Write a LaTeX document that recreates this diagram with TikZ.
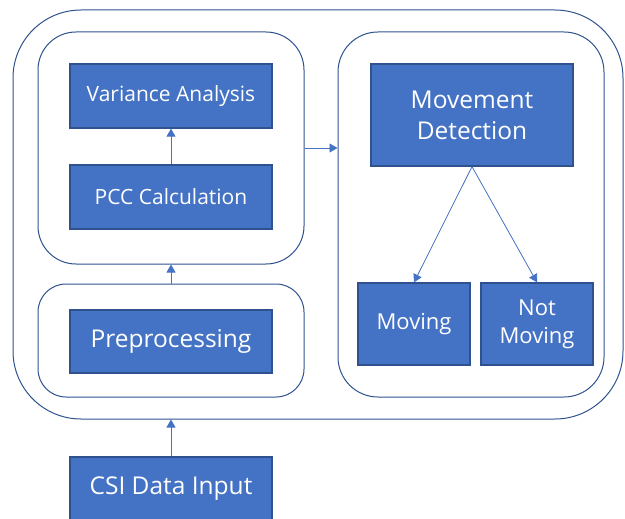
\documentclass[tikz,border=0pt]{standalone}
\usepackage{fontspec}
\setmainfont{Open Sans}
\usetikzlibrary{arrows.meta}

\definecolor{officeblue}{HTML}{4472C4}
\definecolor{darkblue}{HTML}{2F528F}

\tikzstyle{step box} = [draw=darkblue, line width=1.3pt, fill=officeblue, text=white, inner sep=0pt, align=center]
\tikzstyle{group} = [draw=darkblue, line width=1pt, inner sep=0pt]
\tikzstyle{line} = [draw=officeblue, line width=0.8pt, -{Triangle[length=8pt,width=9pt]}]

\begin{document}
\begin{tikzpicture}[x=1pt,y=-1pt]
		\useasboundingbox (0,0) rectangle (625,519);

		%groups
		\node[group, rounded corners=68pt, minimum width=610pt, minimum height=409pt](outer) at (318,214.5) {};
		\node[group, rounded corners=38pt, minimum width=266pt, minimum height=232pt](analysis) at (171,148) {};
		\node[group, rounded corners=28pt, minimum width=266pt, minimum height=113pt](prepgroup) at (171,340.5) {};
		\node[group, rounded corners=40pt, minimum width=266pt, minimum height=365pt](detect) at (471,214.5) {};

		%steps
		\node[step box, minimum width=202pt, minimum height=64pt, font=\fontsize{21}{25}\selectfont](var) at (171,96) {Variance Analysis};
		\node[step box, minimum width=202pt, minimum height=64pt, font=\fontsize{21}{25}\selectfont](pcc) at (171,197) {PCC Calculation};
		\node[step box, minimum width=202pt, minimum height=63pt, font=\fontsize{24.5}{29}\selectfont](prep) at (171,341.5) {Preprocessing};
		\node[step box, minimum width=202pt, minimum height=64pt, font=\fontsize{24.5}{29}\selectfont](csi) at (171,489) {CSI Data Input};
		\node[step box, minimum width=202pt, minimum height=102pt, font=\fontsize{24.5}{31}\selectfont](move) at (472,115) {Movement\\Detection};
		\node[step box, minimum width=112pt, minimum height=82pt, font=\fontsize{22}{28}\selectfont](moving) at (414,324) {Moving};
		\node[step box, minimum width=112pt, minimum height=82pt, font=\fontsize{22}{28}\selectfont](notmoving) at (537,324) {Not\\Moving};

		%arrows
		\draw[line] (csi) -- (outer.south -| csi);
		\draw[line] (prepgroup) -- (analysis);
		\draw[line] (pcc) -- (var);
		\draw[line] (analysis) -- (detect.west |- analysis);
		\draw[line] (move.south) -- (moving.north);
		\draw[line] (move.south) -- (notmoving.north);
\end{tikzpicture}
\end{document}
